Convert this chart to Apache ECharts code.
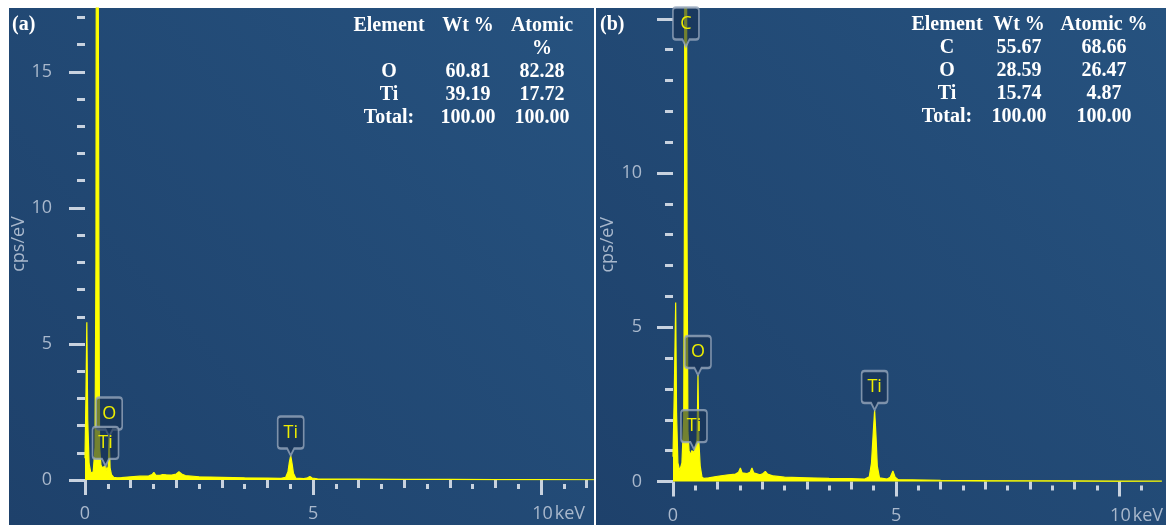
<!DOCTYPE html>
<html>
<head>
<meta charset="utf-8">
<script src="https://cdn.jsdelivr.net/npm/echarts@6.0.0/dist/echarts.min.js"></script>
<style>
  html, body { margin: 0; padding: 0; background: #ffffff; }
  #chart { width: 1166px; height: 525px; }
</style>
</head>
<body>
<div id="chart"></div>
<script>
// ---- EDS spectrum (a): energy in keV, intensity in cps/eV ----
const keVA = [0.00, 0.02, 0.04, 0.06, 0.09, 0.13, 0.18, 0.22, 0.24, 0.26, 0.29, 0.305, 0.32, 0.35,
  0.38, 0.42, 0.45, 0.48, 0.51, 0.53, 0.55, 0.58, 0.63, 0.70, 0.80, 1.00, 1.20, 1.40, 1.47, 1.51,
  1.55, 1.65, 1.70, 1.74, 1.78, 1.90, 2.00, 2.06, 2.12, 2.20, 2.50, 3.00, 3.50, 4.00, 4.30, 4.40,
  4.45, 4.48, 4.51, 4.54, 4.57, 4.62, 4.80, 4.88, 4.93, 4.98, 5.10, 6.00, 7.00, 8.00, 9.00, 10.00, 11.16];
const cpsA = [0.8, 3.0, 5.8, 2.2, 0.6, 0.25, 0.3, 1.2, 8, 40, 40, 8, 1.2, 0.55,
  0.45, 0.48, 0.52, 0.35, 0.5, 1.6, 0.45, 0.2, 0.1, 0.08, 0.09, 0.12, 0.14, 0.15, 0.2, 0.28,
  0.18, 0.17, 0.2, 0.27, 0.19, 0.18, 0.22, 0.3, 0.22, 0.16, 0.12, 0.1, 0.08, 0.07, 0.06, 0.1,
  0.3, 0.65, 0.9, 0.6, 0.25, 0.07, 0.05, 0.08, 0.13, 0.07, 0.04, 0.03, 0.025, 0.02, 0.015, 0.012, 0.01];

// ---- EDS spectrum (b) ----
const keVB = [0.00, 0.03, 0.06, 0.08, 0.11, 0.15, 0.20, 0.24, 0.26, 0.275, 0.30, 0.315, 0.335, 0.36,
  0.39, 0.42, 0.45, 0.48, 0.51, 0.54, 0.56, 0.58, 0.61, 0.65, 0.70, 0.80, 1.00, 1.20, 1.40, 1.47,
  1.51, 1.55, 1.66, 1.73, 1.77, 1.81, 1.95, 2.02, 2.07, 2.12, 2.25, 2.50, 3.00, 3.50, 4.00, 4.30,
  4.40, 4.45, 4.49, 4.52, 4.55, 4.58, 4.63, 4.80, 4.87, 4.93, 4.98, 5.05, 6.00, 7.00, 8.00, 9.00, 10.00, 10.96];
const cpsB = [0.8, 3.0, 5.8, 2.2, 0.6, 0.35, 0.6, 2, 10, 40, 40, 8, 1.6, 1.0,
  0.85, 1.0, 1.05, 0.95, 1.2, 1.35, 3.45, 1.3, 0.5, 0.14, 0.1, 0.12, 0.17, 0.21, 0.24, 0.3,
  0.44, 0.28, 0.26, 0.3, 0.44, 0.28, 0.22, 0.26, 0.33, 0.24, 0.18, 0.14, 0.12, 0.1, 0.09, 0.08,
  0.15, 0.6, 1.6, 2.32, 1.5, 0.5, 0.12, 0.08, 0.14, 0.34, 0.14, 0.06, 0.04, 0.03, 0.025, 0.02, 0.015, 0.01];

// ---- element peak markers ----
const peakNamesA = ['O', 'Ti', 'Ti'];
const peakKeVA = [0.53, 0.45, 4.51];
const peakCpsA = [1.6, 0.52, 0.9];
const peakNamesB = ['C', 'O', 'Ti', 'Ti'];
const peakKeVB = [0.29, 0.56, 0.47, 4.52];
const peakCpsB = [14.1, 3.45, 1.05, 2.32];

// ---- quantification tables ----
const tableHeadA = ['Element', 'Wt %', 'Atomic\n%'];
const tableRowsA = [['O', '60.81', '82.28'], ['Ti', '39.19', '17.72'], ['Total:', '100.00', '100.00']];
const tableHeadB = ['Element', 'Wt %', 'Atomic %'];
const tableRowsB = [['C', '55.67', '68.66'], ['O', '28.59', '26.47'], ['Ti', '15.74', '4.87'], ['Total:', '100.00', '100.00']];

// ---- axis ticks ----
const yMajorTicks = [0, 5, 10, 15];
const yLabelsA = [0, 5, 10, 15];
const yLabelsB = [0, 5, 10];
const yMinorTicks = [1, 2, 3, 4, 6, 7, 8, 9, 11, 12, 13, 14, 16, 17];
const xMajorTicks = [0, 5, 10];
const xMidTicks = [1, 2, 3, 4, 6, 7, 8, 9, 11];
const xHalfTicks = [0.5, 1.5, 2.5, 3.5, 4.5, 5.5, 6.5, 7.5, 8.5, 9.5, 10.5];

const TICK_COLOR = '#c8d2df';
const LABEL_COLOR = '#a9b8cc';
const SPEC_COLOR = '#ffff00';
const LABEL_FONT = 18;
const CALLOUT = 'path://M3,0L23,0Q26,0,26,3L26,29Q26,32,23,32L16.5,32L13,39L9.5,32L3,32Q0,32,0,29L0,3Q0,0,3,0Z';

const grids = [
  { left: 85, top: 8, width: 509, height: 472, xMax: 11.16, yMax: 17.35, yOffset: 12, yLabels: yLabelsA, yLabelMargin: 21 },
  { left: 673, top: 8, width: 493, height: 473.5, xMax: 10.96, yMax: 15.35, yOffset: 11, yLabels: yLabelsB, yLabelMargin: 20 }
];

function within(list, max) { return list.filter(v => v <= max); }

const xAxes = [];
const yAxes = [];
grids.forEach((g, gi) => {
  const base = {
    gridIndex: gi, type: 'value', min: 0, max: g.xMax, position: 'bottom', offset: 4,
    axisLine: { show: false }, splitLine: { show: false }
  };
  xAxes.push(Object.assign({}, base, {
    axisTick: { customValues: within(xMajorTicks, g.xMax), length: 15, lineStyle: { color: TICK_COLOR, width: 3 } },
    axisLabel: {
      customValues: within(xMajorTicks, g.xMax), margin: 21, color: LABEL_COLOR, fontSize: LABEL_FONT, fontFamily: 'Open Sans',
      formatter: v => v === 10 ? '{pad|}10{u|keV}' : String(v),
      rich: { pad: { width: 35 }, u: { color: LABEL_COLOR, fontSize: LABEL_FONT, fontFamily: 'Open Sans', padding: [0, 0, 0, 2] } }
    }
  }));
  xAxes.push(Object.assign({}, base, {
    axisTick: { customValues: within(xMidTicks, g.xMax), length: 8, lineStyle: { color: TICK_COLOR, width: 3 } },
    axisLabel: { show: false }
  }));
  xAxes.push(Object.assign({}, base, {
    axisTick: { customValues: within(xHalfTicks, g.xMax), length: 5, lineStyle: { color: TICK_COLOR, width: 3 } },
    axisLabel: { show: false }
  }));
  const ybase = {
    gridIndex: gi, type: 'value', min: 0, max: g.yMax, position: 'left', offset: g.yOffset,
    axisLine: { show: false }, splitLine: { show: false }
  };
  yAxes.push(Object.assign({}, ybase, {
    name: 'cps/eV', nameLocation: 'middle', nameGap: 45, nameRotate: 90,
    nameTextStyle: { color: LABEL_COLOR, fontSize: LABEL_FONT, fontFamily: 'Open Sans' },
    axisTick: { customValues: within(yMajorTicks, g.yMax), length: 16, lineStyle: { color: TICK_COLOR, width: 3 } },
    axisLabel: { customValues: g.yLabels, margin: g.yLabelMargin, color: LABEL_COLOR, fontSize: LABEL_FONT, fontFamily: 'Open Sans' }
  }));
  yAxes.push(Object.assign({}, ybase, {
    axisTick: { customValues: within(yMinorTicks, g.yMax), length: 8, lineStyle: { color: TICK_COLOR, width: 3 } },
    axisLabel: { show: false }
  }));
});

function spectrumSeries(gi, keV, cps, names, pk, pc) {
  return {
    type: 'line', xAxisIndex: gi * 3, yAxisIndex: gi * 2,
    data: keV.map((e, i) => [e, cps[i]]),
    showSymbol: false, symbol: 'none', clip: true,
    lineStyle: { color: SPEC_COLOR, width: 1.2 },
    itemStyle: { color: SPEC_COLOR },
    areaStyle: { color: SPEC_COLOR, opacity: 1 },
    markPoint: {
      symbol: CALLOUT, symbolSize: [26, 39], symbolOffset: [0, -19.5], silent: true,
      itemStyle: { color: 'rgba(22,46,80,0.6)', borderColor: 'rgba(150,166,188,0.8)', borderWidth: 2 },
      label: { show: true, position: 'inside', offset: [0, -3.5], formatter: '{b}', color: '#eded00', fontSize: 18, fontFamily: 'Open Sans' },
      data: names.map((n, i) => ({ name: n, coord: [pk[i], pc[i]] }))
    }
  };
}

// table text as graphic elements
function tableText(head, rows, colX, y0, step) {
  const els = [];
  const font = 'bold 20px "Liberation Serif", "Times New Roman", serif';
  head.forEach((h, c) => {
    h.split('\n').forEach((line, li) => {
      els.push({ type: 'text', z: 50, style: { text: line, x: colX[c], y: y0 + li * step, fill: '#ffffff', font, align: 'center', verticalAlign: 'middle' } });
    });
  });
  const firstRow = head.some(h => h.indexOf('\n') >= 0) ? 2 : 1;
  rows.forEach((r, ri) => {
    r.forEach((cell, c) => {
      els.push({ type: 'text', z: 50, style: { text: cell, x: colX[c], y: y0 + (ri + firstRow) * step, fill: '#ffffff', font, align: 'center', verticalAlign: 'middle' } });
    });
  });
  return els;
}

const panelFill = {
  type: 'linear', x: 0, y: 1, x2: 1, y2: 0,
  colorStops: [{ offset: 0, color: '#1e416b' }, { offset: 1, color: '#26527f' }]
};

const graphics = [
  { type: 'rect', z: -10, shape: { x: 9, y: 8, width: 585, height: 517 }, style: { fill: panelFill } },
  { type: 'rect', z: -10, shape: { x: 596, y: 8, width: 570, height: 517 }, style: { fill: panelFill } },
  { type: 'text', z: 50, style: { text: '(a)', x: 12, y: 25, fill: '#ffffff', font: 'bold 20px "Liberation Serif", serif', verticalAlign: 'middle' } },
  { type: 'text', z: 50, style: { text: '(b)', x: 600, y: 25, fill: '#ffffff', font: 'bold 20px "Liberation Serif", serif', verticalAlign: 'middle' } }
].concat(
  tableText(tableHeadA, tableRowsA, [389, 468, 542], 26, 23),
  tableText(tableHeadB, tableRowsB, [947, 1019, 1104], 25, 23)
);

const chart = echarts.init(document.getElementById('chart'), null, { renderer: 'canvas' });
chart.setOption({
  animation: false,
  backgroundColor: '#ffffff',
  grid: grids.map(g => ({ left: g.left, top: g.top, width: g.width, height: g.height, containLabel: false })),
  xAxis: xAxes,
  yAxis: yAxes,
  graphic: graphics,
  series: [
    spectrumSeries(0, keVA, cpsA, peakNamesA, peakKeVA, peakCpsA),
    spectrumSeries(1, keVB, cpsB, peakNamesB, peakKeVB, peakCpsB)
  ]
});
</script>
</body>
</html>
